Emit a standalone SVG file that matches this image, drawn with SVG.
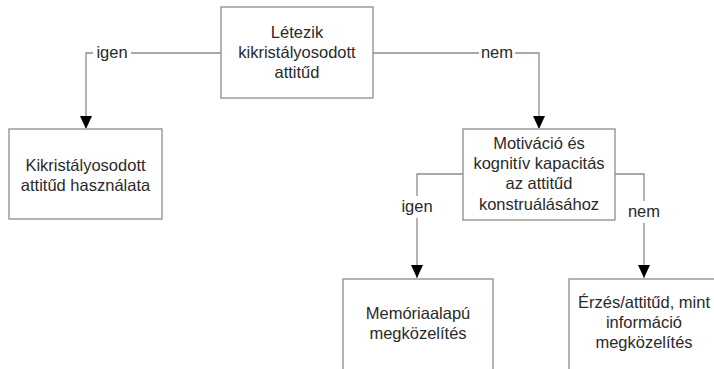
<svg xmlns="http://www.w3.org/2000/svg" width="714" height="369" viewBox="0 0 714 369">
<defs>
<style>
.box{fill:#fff;stroke:#8c8c8c;stroke-width:1.3}
.t{font-family:"Liberation Sans",Arial,sans-serif;font-size:16.5px;fill:#2a2a2a;text-anchor:middle}
.ln{fill:none;stroke:#8c8c8c;stroke-width:1.3}
.lb{fill:#fff;stroke:none}
</style>
<marker id="ah" viewBox="0 0 12 14" refX="6" refY="14" markerWidth="12" markerHeight="14" markerUnits="userSpaceOnUse" orient="auto-start-reverse">
<path d="M0,0 L12,0 L6,14 Z" fill="#000"/>
</marker>
</defs>
<rect width="714" height="369" fill="#fff"/>
<g id="connectors">
<path class="ln" d="M221,53 H86 V128"/>
<path class="ln" d="M373,53 H539 V128"/>
<path class="ln" d="M463,174 H417 V278"/>
<path class="ln" d="M615,174 H644 V278"/>
<path d="M86,116 L92,116 L86,129 L80,116 Z" fill="#000"/>
<path d="M539,116 L545,116 L539,129 L533,116 Z" fill="#000"/>
<path d="M417,265 L423,265 L417,278 L411,265 Z" fill="#000"/>
<path d="M644,265 L650,265 L644,278 L638,265 Z" fill="#000"/>
<rect class="lb" x="93" y="44" width="38" height="18"/>
<text class="t" x="112" y="58">igen</text>
<rect class="lb" x="479" y="44" width="36" height="18"/>
<text class="t" x="497" y="58">nem</text>
<rect class="lb" x="400" y="196" width="34" height="22"/>
<text class="t" x="417" y="212">igen</text>
<rect class="lb" x="626" y="201" width="36" height="22"/>
<text class="t" x="644" y="217">nem</text>
</g>
<g id="n1">
<rect class="box" x="221" y="7" width="152" height="91"/>
<text class="t" x="297" y="38">Létezik</text>
<text class="t" x="297" y="58">kikristályosodott</text>
<text class="t" x="297" y="78">attitűd</text>
</g>
<g id="n2">
<rect class="box" x="9" y="129" width="153" height="90"/>
<text class="t" x="85.5" y="171">Kikristályosodott</text>
<text class="t" x="85.5" y="191">attitűd használata</text>
</g>
<g id="n3">
<rect class="box" x="463" y="129" width="152" height="91"/>
<text class="t" x="539" y="149">Motiváció és</text>
<text class="t" x="539" y="169">kognitív kapacitás</text>
<text class="t" x="539" y="189">az attitűd</text>
<text class="t" x="539" y="210">konstruálásához</text>
</g>
<g id="n4">
<rect class="box" x="343" y="279" width="150" height="100"/>
<text class="t" x="418" y="319">Memóriaalapú</text>
<text class="t" x="418" y="339">megközelítés</text>
</g>
<g id="n5">
<rect class="box" x="569" y="279" width="152" height="100"/>
<text class="t" x="644" y="308">Érzés/attitűd, mint</text>
<text class="t" x="644" y="328">információ</text>
<text class="t" x="644" y="348">megközelítés</text>
</g>
</svg>
